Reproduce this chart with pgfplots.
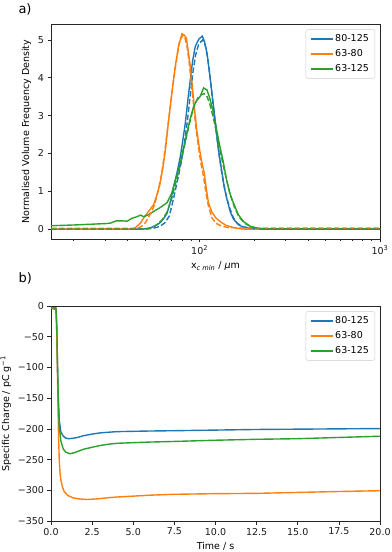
\documentclass[border=0pt]{standalone}
\usepackage{pgfplots}
\pgfplotsset{compat=1.18}
\usepackage{fontspec}
\setmainfont{DejaVu Sans}

\definecolor{c0}{HTML}{1F77B4}
\definecolor{c1}{HTML}{FF7F0E}
\definecolor{c2}{HTML}{2CA02C}

\newcommand{\lab}{\fontsize{9.5bp}{11bp}\selectfont}

\pgfplotsset{
  mpl/.style={
    scale only axis, width=329bp, height=215bp,
    axis line style={black!85, line width=0.7pt},
    tick align=outside, tick pos=left,
    major tick length=3.5bp, minor tick length=2bp,
    every tick/.style={black!85, line width=0.7pt},
    tick label style={font=\lab, text=black!90},
    label style={font=\lab},
    /pgf/number format/assume math mode=true,
    legend style={at={(0.985,0.975)}, anchor=north east, draw=black!20,
      rounded corners=2pt, font=\lab, inner xsep=4bp, inner ysep=3bp, row sep=2.6bp},
    legend cell align=left,
    legend image code/.code={\draw[#1, line width=1.4pt, solid] (0bp,0bp) -- (22bp,0bp);},
    every axis plot/.append style={line width=1.4pt},
  },
  dsh/.style={dash pattern=on 5.5bp off 2.4bp, forget plot},
}

\begin{document}
\begin{tikzpicture}
\path[use as bounding box] (0,0) rectangle (392bp,552bp);

\node[anchor=north west, font=\fontsize{13bp}{15bp}\selectfont] at (15bp,552bp) {a)};
\node[anchor=north west, font=\fontsize{13bp}{15bp}\selectfont] at (15bp,283bp) {b)};

% size distributions
\begin{axis}[mpl, at={(51bp,313bp)}, anchor=south west,
  xmode=log, xmin=15, xmax=1000, ymin=-0.26, ymax=5.42,
  xtick={100,1000}, xticklabels={10\textsuperscript{2},10\textsuperscript{3}},
  minor xtick={20,30,40,50,60,70,80,90,200,300,400,500,600,700,800,900},
  ytick={0,1,2,3,4,5},
  xlabel={x\textsubscript{\textit{c min}} / \textit{μ}m},
  ylabel={Normalised Volume Frequency Density}]
\addplot[c0] coordinates {(15,0) (48,0) (52,0.02) (56,0.07) (60,0.16) (63,0.27) (66,0.42) (69,0.75) (71.8,1.12) (75,1.5) (78.2,1.92) (81,2.4) (83.3,2.8) (86,3.4) (88.8,3.95) (91.5,4.45) (94.6,4.83) (99,5.02) (103.5,5.1) (106.5,4.95) (109.8,4.66) (113,4.2) (117,3.6) (121,3.0) (124.7,2.45) (129,1.9) (133,1.5) (137,1.1) (141.6,0.8) (148,0.45) (154.3,0.26) (165,0.11) (175,0.05) (199,0.01) (220,0) (1000,0)};
\addlegendentry{80-125}
\addplot[c1] coordinates {(15,0) (42,0) (44,0.04) (47,0.16) (49,0.3) (51.2,0.42) (53.5,0.54) (55.6,0.65) (57.5,0.85) (60,1.15) (62.5,1.6) (64.6,2.09) (66.5,2.65) (68.8,3.24) (71,3.8) (73.3,4.3) (76.5,4.85) (79.8,5.16) (82,5.13) (84.4,5.05) (86.5,4.7) (88.8,4.3) (91,3.8) (93.4,3.24) (96.5,2.6) (100,2.1) (103,1.75) (106,1.5) (109,1.05) (112,0.69) (117,0.45) (123,0.3) (130,0.2) (140,0.1) (155,0.04) (168,0.01) (180,0) (1000,0)};
\addlegendentry{63-80}
\addplot[c2] coordinates {(15,0.09) (20,0.11) (25,0.13) (30.7,0.15) (32,0.16) (34.5,0.22) (37,0.22) (39.6,0.21) (42.3,0.29) (45,0.33) (47,0.37) (49,0.33) (52,0.38) (55.6,0.47) (60,0.56) (66,0.7) (70,0.95) (74,1.35) (78.2,1.74) (81.5,2.15) (85.1,2.54) (88.5,2.9) (92.6,3.24) (96.5,3.4) (100.8,3.51) (105.2,3.73) (109.8,3.68) (114,3.45) (119.5,3.07) (124.5,2.6) (130,2.15) (135,1.8) (141,1.3) (147,0.95) (154,0.69) (164,0.38) (175,0.2) (190,0.08) (205,0.03) (220,0.01) (240,0) (1000,0)};
\addlegendentry{63-125}
\addplot[c0, dsh] coordinates {(15,0) (50,0) (55,0.02) (60,0.07) (64,0.16) (68,0.35) (72,0.85) (75.5,1.3) (79,1.75) (82.5,2.3) (85.5,2.85) (88.5,3.5) (91.5,4.1) (95,4.6) (99,4.9) (104,5.0) (107.5,4.85) (111,4.5) (115,3.9) (119,3.25) (123,2.65) (127.5,2.05) (131.5,1.6) (136,1.2) (141,0.85) (147,0.55) (154,0.3) (162,0.15) (175,0.06) (200,0.02) (230,0) (1000,0)};
\addplot[c1, dsh] coordinates {(15,0.02) (45,0.02) (47.5,0.07) (50,0.17) (53.3,0.4) (56,0.62) (58.5,0.95) (61,1.35) (63.5,1.9) (66,2.55) (68.8,3.25) (71.5,3.9) (74,4.4) (77,4.9) (80.5,5.13) (83,5.05) (85,4.85) (87.5,4.4) (90,3.85) (92.5,3.3) (95.5,2.65) (99,2.1) (102,1.7) (105,1.4) (108.5,0.95) (112,0.6) (117,0.3) (123,0.16) (132,0.08) (145,0.04) (170,0.03) (1000,0.03)};
\addplot[c2, dsh] coordinates {(15,0) (48,0) (53,0.03) (58,0.12) (62,0.25) (66,0.45) (70,0.8) (74,1.25) (78,1.68) (82,2.15) (86,2.6) (90,3.0) (94,3.3) (98,3.48) (102,3.55) (106,3.58) (110,3.5) (114,3.3) (119,2.95) (124,2.55) (129.5,2.1) (135,1.7) (141,1.3) (148,0.9) (156,0.58) (165,0.33) (178,0.15) (195,0.06) (215,0.02) (240,0) (1000,0)};
\end{axis}

% charge against time
\begin{axis}[mpl, at={(51bp,31bp)}, anchor=south west,
  xmin=0, xmax=20, ymin=-350, ymax=0,
  xtick={0,2.5,5,7.5,10,12.5,15,17.5,20},
  xticklabel style={/pgf/number format/fixed, /pgf/number format/fixed zerofill, /pgf/number format/precision=1},
  ytick={-350,-300,-250,-200,-150,-100,-50,0},
  yticklabels={−350,−300,−250,−200,−150,−100,−50,0},
  xlabel={Time / s},
  ylabel={Specific Charge / pC g\textsuperscript{−1}}]
\addplot[c0] coordinates {(0,-3) (0.1,-4) (0.2,-5) (0.3,-5) (0.33,-20) (0.38,-80) (0.43,-140) (0.5,-185) (0.6,-205) (0.75,-212) (0.9,-215) (1.05,-216) (1.3,-215.5) (1.6,-214) (2,-211) (2.5,-208.5) (3,-206.5) (3.5,-205.5) (4,-204.5) (5,-204) (6,-203.5) (7.5,-203) (10,-202) (12.5,-201) (15,-200.5) (17.5,-200) (20,-199.5)};
\addlegendentry{80-125}
\addplot[c1] coordinates {(0,-3) (0.1,-4) (0.2,-4) (0.3,-4) (0.35,-40) (0.4,-120) (0.45,-200) (0.5,-250) (0.55,-272) (0.6,-283) (0.7,-295) (0.8,-302) (1.0,-308) (1.3,-312) (1.7,-314) (2.2,-315) (2.8,-314) (3.5,-312) (4,-311) (5,-309.5) (6,-308) (7.5,-306.5) (10,-305.5) (12.5,-305) (15,-303.5) (17.5,-302) (20,-300.7)};
\addlegendentry{63-80}
\addplot[c2] coordinates {(0,-2) (0.1,-3) (0.2,-3) (0.3,-3) (0.35,-30) (0.4,-100) (0.45,-160) (0.5,-195) (0.6,-220) (0.75,-233) (0.9,-238) (1.15,-240.5) (1.4,-239) (1.7,-236) (2,-233) (2.5,-230) (3,-227) (3.5,-225) (4,-223.5) (5,-222.5) (6,-221.5) (7.5,-220.5) (10,-218.5) (12.5,-217) (15,-216) (17.5,-214) (20,-212)};
\addlegendentry{63-125}
\end{axis}
\end{tikzpicture}
\end{document}
